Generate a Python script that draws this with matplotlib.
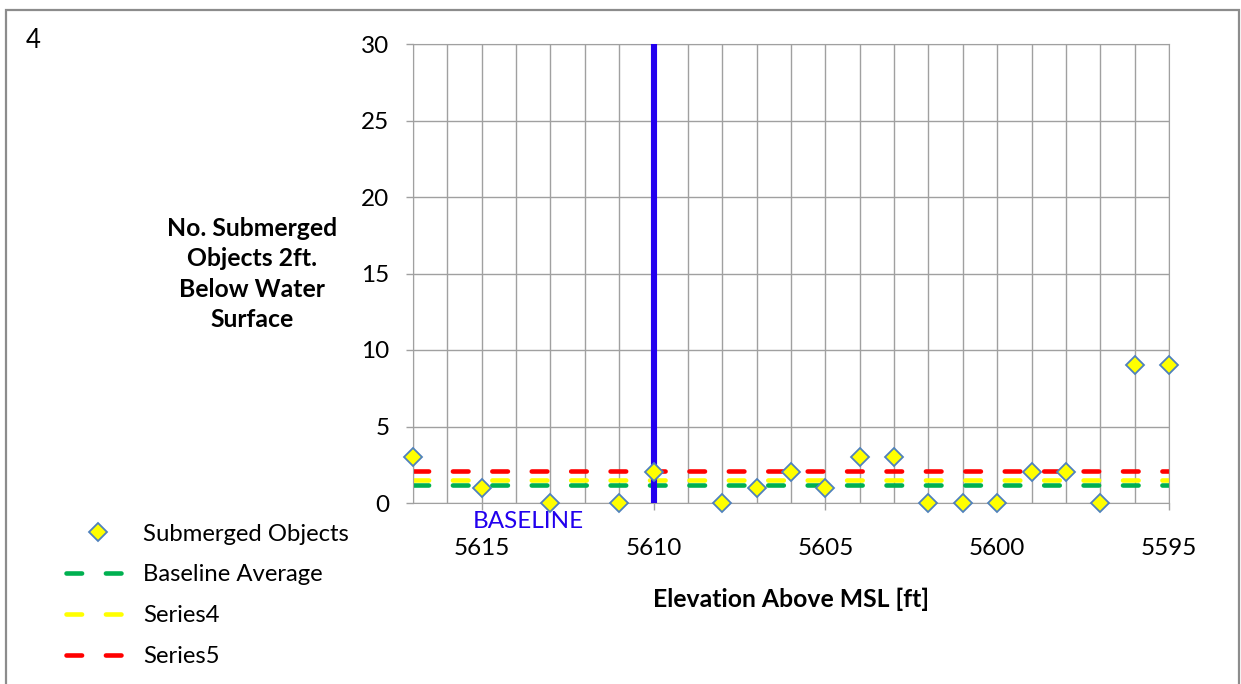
import numpy as np
import matplotlib.pyplot as plt
from matplotlib.lines import Line2D
from matplotlib.patches import Rectangle

plt.rcParams['font.family'] = ['Lato', 'DejaVu Sans']

# Data
elevation = [5617, 5615, 5613, 5611, 5610, 5608, 5607, 5606, 5605, 5604,
             5603, 5602, 5601, 5600, 5599, 5598, 5597, 5596, 5595]
objects = [3, 1, 0, 0, 2, 0, 1, 2, 1, 3, 3, 0, 0, 0, 2, 2, 0, 9, 9]
baseline_avg = 1.2
series4 = 1.5
series5 = 2.1
baseline_elev = 5610
x_ticks = [5615, 5610, 5605, 5600, 5595]
y_ticks = [0, 5, 10, 15, 20, 25, 30]

grid_col = '#A0A0A0'

fig = plt.figure(figsize=(12.41, 6.84), dpi=100)
ax = fig.add_axes([413 / 1241, 1 - 503 / 684, 756 / 1241, 459 / 684])

# vertical grid every 1 ft, horizontal every 5
for xv in range(elevation[-1], elevation[0] + 1):
    ax.axvline(xv, color=grid_col, lw=1, zorder=0)
for yv in y_ticks:
    ax.axhline(yv, color=grid_col, lw=1, zorder=0)

# average lines
dash = dict(lw=3.3, dash_capstyle='round', dashes=(3.4, 5.2))
ax.plot([elevation[0], elevation[-1]], [baseline_avg] * 2, color='#00B050', zorder=2, **dash)
ax.plot([elevation[0], elevation[-1]], [series4] * 2, color='#FFFF00', zorder=2, **dash)
ax.plot([elevation[0], elevation[-1]], [series5] * 2, color='#FF0000', zorder=2, **dash)

# baseline marker line
ax.plot([baseline_elev, baseline_elev], [0, 30], color='#2200EE', lw=4.4, zorder=3,
        solid_capstyle='butt')

# submerged objects
mk = dict(linestyle='none', marker='D', ms=9.5, markerfacecolor='#FFFF00',
          markeredgecolor='#4F81BD', markeredgewidth=1.3)
ax.plot(elevation, objects, zorder=4, clip_on=False, **mk)

ax.set_xlim(elevation[0], elevation[-1])
ax.set_ylim(0, 30)
ax.set_xticks(x_ticks)
ax.set_yticks(y_ticks)
ax.tick_params(axis='both', colors=grid_col, labelcolor='black', labelsize=17.5,
               length=5, width=1)
ax.tick_params(axis='x', pad=20)
ax.tick_params(axis='y', pad=12)
for s in ax.spines.values():
    s.set_color(grid_col)

ax.text(0.153, -0.04, 'BASELINE', transform=ax.transAxes, color='#2200EE',
        fontsize=17.5, ha='center', va='center')

ax.set_xlabel('Elevation Above MSL [ft]', fontsize=17.8, fontweight='bold', labelpad=21)
fig.text(252 / 1241, 1 - 274 / 684,
         'No. Submerged\nObjects 2ft.\nBelow Water\nSurface',
         ha='center', va='center', fontsize=17.8, fontweight='bold', linespacing=1.38)

fig.text(33 / 1241, 1 - 40 / 684, '4', fontsize=18.5, ha='center', va='center')

handles = [
    Line2D([], [], **mk),
    Line2D([], [], color='#00B050', **dash),
    Line2D([], [], color='#FFFF00', **dash),
    Line2D([], [], color='#FF0000', **dash),
]
fig.legend(handles, ['Submerged Objects', 'Baseline Average', 'Series4', 'Series5'],
           loc='upper left', bbox_to_anchor=(56 / 1241, 1 - 514 / 684), frameon=False,
           fontsize=17.2, handlelength=2.75, handletextpad=0.5, labelspacing=0.83,
           borderaxespad=0)

fig.add_artist(Rectangle((6 / 1241, -0.05), 1233 / 1241, 1.05 - 10 / 684,
                         transform=fig.transFigure, fill=False, edgecolor='#8C8C8C',
                         lw=1.6, clip_on=False))

fig.savefig('out.png', dpi=100)
